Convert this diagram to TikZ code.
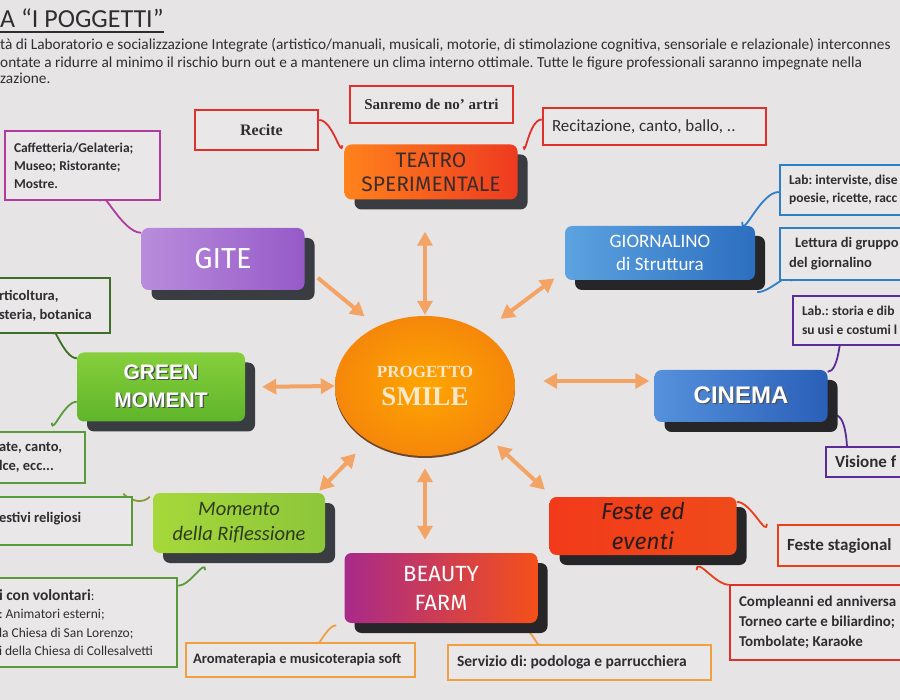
\documentclass[tikz,border=0pt]{standalone}
\usepackage{fontspec}
\setmainfont{Carlito}
\newfontfamily\serifbf{Liberation Serif}
\newfontfamily\arialf{Liberation Sans}
\newfontfamily\comicf{Fira Sans}
\usetikzlibrary{arrows.meta,shadows,shapes.geometric}
\pgfdeclarelayer{bg}
\pgfsetlayers{bg,main}
\definecolor{bgc}{HTML}{E7E4E6}
\definecolor{leafc}{HTML}{EAE7E9}
\definecolor{txt}{HTML}{2E2E30}
\definecolor{shc}{HTML}{393C40}
\definecolor{shk}{HTML}{262628}
\definecolor{shtc}{HTML}{4A4E52}
\definecolor{arrc}{HTML}{F3A465}
\definecolor{redc}{HTML}{E0302A}
\definecolor{purc}{HTML}{B03A9E}
\definecolor{grnd}{HTML}{3F6E2A}
\definecolor{grnc}{HTML}{5A9A3A}
\definecolor{olvc}{HTML}{8A9A3A}
\definecolor{orgc}{HTML}{F0A040}
\definecolor{bluc}{HTML}{2E7FC8}
\definecolor{pdkc}{HTML}{5A2D96}
\definecolor{ferc}{HTML}{E8401A}
\newcommand{\shadowtxt}[1]{\leavevmode\rlap{\kern1.3pt\raisebox{-1.3pt}{\textcolor{shtc}{#1}}}#1}
\begin{document}
\frenchspacing
\begin{tikzpicture}[x=1pt,y=-1pt,
  mainbox/.style={rounded corners=7pt, align=center, inner sep=2pt,
    drop shadow={shadow xshift=10pt, shadow yshift=-10pt, fill=#1, opacity=1}},
  leaf/.style={draw, line width=2.5pt, fill=leafc, inner xsep=9pt, inner ysep=4pt, text=txt, align=flush left},
  link/.style={line width=1.8pt},
  arr/.style={draw=arrc, line width=4pt, shorten <=#1},
  tip/.style={-{Triangle[width=15pt,length=14pt]}},
  tips/.style={{Triangle[width=15pt,length=14pt]}-{Triangle[width=15pt,length=14pt]}},
]
\useasboundingbox (0,0) rectangle (900,700);
\clip (0,0) rectangle (900,700);

% ---------- header ----------
\node[anchor=base west, inner sep=0pt, text=txt, font=\fontsize{26}{28}\selectfont] (title) at (0,28) {A “I POGGETTI”};
\draw[txt, line width=1.2pt] ([yshift=-4pt]title.base west) -- ([yshift=-4pt]title.base east);
\node[anchor=base west, inner sep=0pt, text=txt, font=\fontsize{15.3}{17}\selectfont] (h1) at (0,50) {tà di Laboratorio e socializzazione Integrate (artistico/manuali, musicali, motorie, di stimolazione cognitiva, sensoriale e relazionale) interconnes};
\node[anchor=base west, inner sep=0pt, text=txt, font=\fontsize{15.3}{17}\selectfont] (h2) at (0,68) {ontate a ridurre al minimo il rischio burn out e a mantenere un clima interno ottimale. Tutte le figure professionali saranno impegnate nella};
\node[anchor=base west, inner sep=0pt, text=txt, font=\fontsize{15.3}{17}\selectfont] (h3) at (0,84) {zazione.};

% ---------- central ellipse ----------
\node[ellipse, minimum width=180pt, minimum height=140pt, inner sep=0pt,
  inner color=orange!70!yellow, outer color={rgb,255:red,245;green,135;blue,10},
  drop shadow={shadow xshift=0pt, shadow yshift=-2pt, fill={rgb,255:red,110;green,70;blue,40}, opacity=1},
  align=center, text={rgb,255:red,248;green,232;blue,205}] (smile) at (425,386)
  {{\serifbf\bfseries\fontsize{17}{19}\selectfont PROGETTO}\\[9pt]{\serifbf\bfseries\fontsize{27}{30}\selectfont SMILE}};

% ---------- main boxes ----------
\node[mainbox=shc, minimum width=173pt, minimum height=55pt,
  left color={rgb,255:red,255;green,130;blue,28}, right color={rgb,255:red,238;green,58;blue,32},
  text={rgb,255:red,60;green,45;blue,45}, font=\comicf\fontsize{21}{24}\selectfont] (teatro) at (431,172) {TEATRO\\SPERIMENTALE};
\node[mainbox=shc, minimum width=163pt, minimum height=62pt,
  left color={rgb,255:red,185;green,140;blue,220}, right color={rgb,255:red,150;green,90;blue,200},
  text=white, font=\comicf\fontsize{29}{32}\selectfont] (gite) at (223,259) {GITE};
\node[mainbox=shk, minimum width=190pt, minimum height=54pt,
  left color={rgb,255:red,92;green,163;blue,224}, right color={rgb,255:red,45;green,110;blue,192},
  text=white, font=\fontsize{19}{23}\selectfont] (giorn) at (660,253) {GIORNALINO\\di Struttura};
\node[mainbox=shc, minimum width=168pt, minimum height=69pt,
  top color={rgb,255:red,134;green,207;blue,60}, bottom color={rgb,255:red,95;green,181;blue,42},
  text=white, font=\arialf\bfseries\fontsize{21}{28}\selectfont] (green) at (161,387) {\shadowtxt{GREEN}\\\shadowtxt{MOMENT}};
\node[mainbox=shk, minimum width=173pt, minimum height=52pt,
  left color={rgb,255:red,85;green,145;blue,220}, right color={rgb,255:red,42;green,95;blue,184},
  text=white, font=\arialf\bfseries\fontsize{24}{28}\selectfont] (cinema) at (741,396) {\shadowtxt{CINEMA}};
\node[mainbox=shc, minimum width=172pt, minimum height=60pt,
  left color={rgb,255:red,166;green,216;blue,58}, right color={rgb,255:red,140;green,198;blue,58},
  text={rgb,255:red,47;green,58;blue,32}, font=\itshape\fontsize{20.5}{25}\selectfont] (momento) at (239,523) {Momento\\della Riflessione};
\node[mainbox=shk, minimum width=187pt, minimum height=58pt,
  left color={rgb,255:red,242;green,58;blue,26}, middle color={rgb,255:red,255;green,176;blue,32}, right color={rgb,255:red,240;green,74;blue,26},
  text={rgb,255:red,40;green,30;blue,30}, font=\comicf\itshape\fontsize{23}{30}\selectfont] (feste) at (643,526) {Feste ed\\eventi};
\node[mainbox=shk, minimum width=193pt, minimum height=70pt,
  left color={rgb,255:red,168;green,42;blue,138}, right color={rgb,255:red,245;green,80;blue,26},
  text=white, font=\comicf\fontsize{22}{29}\selectfont] (beauty) at (441,588) {BEAUTY\\FARM};

% ---------- leaf boxes ----------
\node[leaf, draw=redc, minimum width=163pt, minimum height=37pt, align=center, font=\serifbf\bfseries\fontsize{15}{18}\selectfont] (sanremo) at (431.5,104.5) {Sanremo de no’ artri};
\node[leaf, draw=redc, minimum width=123pt, minimum height=40pt, align=center, font=\serifbf\bfseries\fontsize{16}{19}\selectfont] (recite) at (256.5,130) {\hspace*{10pt}Recite};
\node[leaf, draw=redc, text width=205pt, minimum height=37pt, font=\fontsize{17}{19}\selectfont] (recit) at (654.5,126.5) {Recitazione, canto, ballo, ..};
\node[leaf, draw=purc, text width=137pt, minimum height=69pt, font=\bfseries\fontsize{13.5}{18}\selectfont] (caff) at (82.5,165.5) {Caffetteria/Gelateria;\\Museo; Ristorante;\\Mostre.};
\node[leaf, draw=grnd, text width=102pt, minimum height=55pt, font=\bfseries\fontsize{14.5}{19}\selectfont] (ortic) at (50,305.5) {rticoltura,\\steria, botanica};
\node[leaf, draw=grnc, text width=77pt, minimum height=51pt, font=\bfseries\fontsize{14.5}{19}\selectfont] (ate) at (37.5,457.5) {ate, canto,\\lce, ecc...};
\node[leaf, draw=grnc, text width=124pt, minimum height=48pt, font=\bfseries\fontsize{14.5}{19}\selectfont] (festivi) at (61,521) {\raisebox{7pt}{estivi religiosi}};
\node[leaf, draw=grnc, text width=169pt, minimum height=89pt, font=\fontsize{13.5}{18.5}\selectfont] (volont) at (83.5,622.5) {{\bfseries\fontsize{15.5}{18.5}\selectfont i con volontari}:\\: Animatori esterni;\\la Chiesa di San Lorenzo;\\i della Chiesa di Collesalvetti};
\node[leaf, draw=orgc, inner xsep=7pt, text width=215pt, minimum height=34pt, font=\bfseries\fontsize{14.5}{17}\selectfont] (aroma) at (300.5,660) {Aromaterapia e musicoterapia soft};
\node[leaf, draw=orgc, text width=245pt, minimum height=35pt, font=\bfseries\fontsize{15.5}{17}\selectfont] (serv) at (579.5,662.5) {Servizio di: podologa e parrucchiera};
\node[leaf, draw=bluc, text width=117pt, minimum height=50pt, font=\bfseries\fontsize{13.5}{18}\selectfont] (labint) at (847.5,190) {Lab: interviste, dise\\poesie, ricette, racc};
\node[leaf, draw=bluc, text width=117pt, minimum height=52pt, font=\bfseries\fontsize{14.5}{20}\selectfont] (lettura) at (847.5,254) {\hspace*{6pt}Lettura di gruppo\\del giornalino};
\node[leaf, draw=pdkc, text width=104pt, minimum height=49pt, font=\bfseries\fontsize{13.5}{19}\selectfont] (labst) at (854,320.5) {Lab.: storia e dib\\su usi e costumi l};
\node[leaf, draw=pdkc, text width=71pt, minimum height=30pt, font=\bfseries\fontsize{17}{18}\selectfont] (visione) at (870.5,462) {Visione f};
\node[leaf, draw=ferc, text width=119pt, minimum height=41pt, font=\bfseries\fontsize{17}{18}\selectfont] (festest) at (846.5,545.5) {Feste stagional};
\node[leaf, draw=redc, text width=167pt, minimum height=75pt, font=\bfseries\fontsize{15}{20}\selectfont] (comple) at (822.5,622.5) {Compleanni ed anniversa\\Torneo carte e biliardino;\\Tombolate; Karaoke};

% ---------- arrows ----------
\coordinate (cinArr) at ([yshift=5pt]smile.east);
\draw[arr=32pt, shorten >=1pt, tips] (smile.north |- teatro.south) -- (smile.north);
\draw[arr=12pt, shorten >=13pt, tips] (smile.south) -- (smile.south |- beauty.north);
\draw[arr=17pt, shorten >=16pt, tip] ([yshift=-8pt]gite.east) -- (smile.129);
\draw[arr=22pt, shorten >=13pt, tips] (smile.43) -- ([yshift=9.6pt]giorn.south west);
\draw[arr=17pt, shorten >=0pt, tips] (green.east) -- (smile.west);
\draw[arr=28pt, shorten >=5pt, tips] (cinArr) -- (cinArr -| cinema.west);
\draw[arr=18pt, shorten >=3pt, tips] (smile.224) -- ([xshift=-8pt]momento.north east);
\draw[arr=13pt, shorten >=6pt, tips] (smile.-39) -- ([yshift=3pt]feste.north west);

% ---------- background and links ----------
\begin{pgfonlayer}{bg}
\fill[bgc] (0,0) rectangle (900,700);
\draw[link, redc] ([yshift=10pt]recite.east) to[out=0,in=-95] ([xshift=-2pt,yshift=-1pt]teatro.north west);
\draw[link, redc] ([yshift=7pt]recit.west) to[out=180,in=-85] ([xshift=6pt,yshift=-2pt]teatro.north east);
\draw[link, purc] ([xshift=17.5pt]caff.south) to[out=90,in=180] ([yshift=-5pt]gite.north west);
\draw[link, grnd] ([xshift=3pt]ortic.south) to[out=90,in=180] ([yshift=-6pt]green.north west);
\draw[link, grnc] ([yshift=20pt]green.south west) to[out=180,in=-90] ([xshift=14.5pt,yshift=8pt]ate.north);
\draw[link, olvc] ([xshift=-10pt,yshift=2pt]festivi.north east) to[out=-45,in=-135] ([xshift=-3pt,yshift=-4pt]momento.north west);
\draw[link, grnc] ([yshift=-9pt]volont.north east) to[out=0,in=90] ([xshift=-34pt,yshift=-17pt]momento.south);
\draw[link, orgc] ([xshift=16.5pt]aroma.north) to[out=-90,in=180] ([xshift=-8pt,yshift=-2pt]beauty.south west);
\draw[link, orgc] ([xshift=-15pt,yshift=-5pt]beauty.south east) to[out=0,in=-90] ([xshift=-39.5pt]serv.north);
\draw[link, bluc] ([yshift=-2pt]labint.west) to[out=180,in=-90] ([xshift=-13pt,yshift=4pt]giorn.north east);
\draw[link, bluc] ([xshift=2pt,yshift=-12pt]giorn.south east) to[out=0,in=90] ([xshift=13pt]lettura.south west);
\draw[link, pdkc] ([xshift=-14pt]labst.south) to[out=90,in=0] ([yshift=-2pt]cinema.north east);
\draw[link, pdkc] ([xshift=7.5pt,yshift=7pt]cinema.south east) to[out=0,in=-90] ([xshift=-23.5pt]visione.north);
\draw[link, ferc] ([yshift=-5pt]feste.north east) to[out=0,in=-90] ([xshift=-10pt]festest.north west);
\draw[link, ferc] ([xshift=-40pt,yshift=-15pt]feste.south east) to[out=90,in=180] ([yshift=-1pt]comple.north west);
\end{pgfonlayer}
\end{tikzpicture}
\end{document}
